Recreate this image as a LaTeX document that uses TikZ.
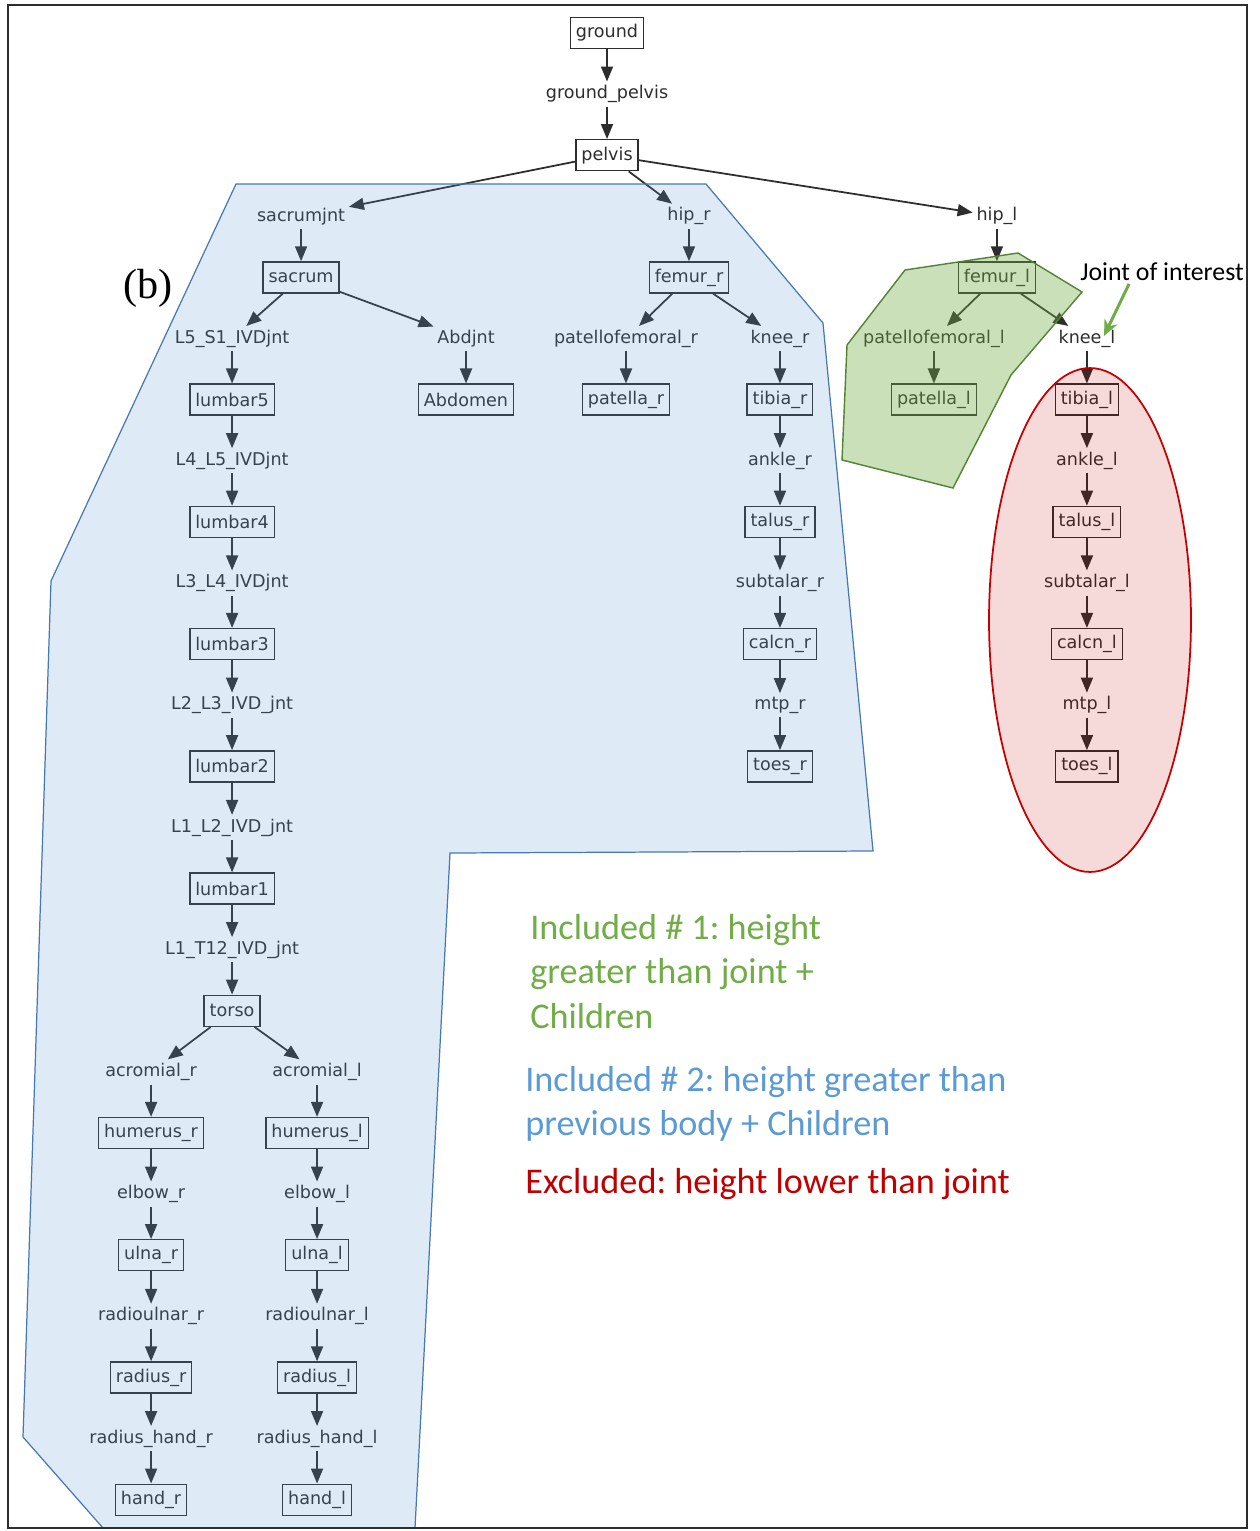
\documentclass[tikz,border=0pt]{standalone}
\usepackage{fontspec}
\usepackage{tikz}
\usetikzlibrary{shapes,arrows.meta,positioning}
\newfontfamily\treefont{DejaVu Sans}
\newfontfamily\legfont{Carlito}
\newfontfamily\capfont{Liberation Serif}
\definecolor{boxgray}{RGB}{45,45,45}
\definecolor{leggreen}{RGB}{112,173,71}
\definecolor{legblue}{RGB}{91,155,213}
\definecolor{legred}{RGB}{192,0,0}
\definecolor{blueline}{RGB}{70,120,180}
\definecolor{greenline}{RGB}{84,130,53}
\frenchspacing

\begin{document}
\begin{tikzpicture}[x=0.02cm, y=-0.02cm, node distance=1.2225cm, on grid,
    body/.style={rectangle, draw=boxgray, line width=0.8pt, text=boxgray, inner xsep=0.11cm, inner ysep=0pt, minimum height=0.62cm, font=\treefont\fontsize{10}{12}\selectfont},
    jnt/.style={inner sep=2pt, text=boxgray, font=\treefont\fontsize{10}{12}\selectfont},
    ar/.style={line width=1pt, draw=boxgray, -{Triangle[length=3mm,width=2.4mm]}},
    leg/.style={inner sep=0pt, anchor=north west, align=left, font=\legfont\fontsize{20.6}{25.2}\selectfont}]
    \useasboundingbox (0,0) rectangle (1259,1531);

    % root
    \node [body] (ground) at (607,33) {ground};
    \node [jnt, below=of ground] (gpelvis) {ground\_pelvis};
    \node [body, below=of gpelvis] (pelvis) {pelvis};
    \node [jnt, below left=1.2225cm and 6.12cm of pelvis] (sacrumjnt) {sacrumjnt};
    \node [body, below=of sacrumjnt] (sacrum) {sacrum};
    \node [jnt, below right=1.2225cm and 1.64cm of pelvis] (hipr) {hip\_r};
    \node [body, below=of hipr] (femurr) {femur\_r};
    \node [jnt, below right=1.2225cm and 7.8cm of pelvis] (hipl) {hip\_l};
    \node [body, below=of hipl] (femurl) {femur\_l};

    % spine
    \node [jnt, below left=1.2225cm and 1.38cm of sacrum] (lfives) {L5\_S1\_IVDjnt};
    \node [body, below=of lfives] (lumbarv) {lumbar5};
    \node [jnt, below=of lumbarv] (lfourv) {L4\_L5\_IVDjnt};
    \node [body, below=of lfourv] (lumbariv) {lumbar4};
    \node [jnt, below=of lumbariv] (lthreeiv) {L3\_L4\_IVDjnt};
    \node [body, below=of lthreeiv] (lumbariii) {lumbar3};
    \node [jnt, below=of lumbariii] (ltwoiii) {L2\_L3\_IVD\_jnt};
    \node [body, below=of ltwoiii] (lumbarii) {lumbar2};
    \node [jnt, below=of lumbarii] (loneii) {L1\_L2\_IVD\_jnt};
    \node [body, below=of loneii] (lumbari) {lumbar1};
    \node [jnt, below=of lumbari] (ltwelve) {L1\_T12\_IVD\_jnt};
    \node [body, below=of ltwelve] (torso) {torso};
    \node [jnt, below right=1.2225cm and 3.3cm of sacrum] (abdjnt) {Abdjnt};
    \node [body, below=of abdjnt] (abdomen) {Abdomen};

    % arms
    \node [jnt, below left=1.2225cm and 1.62cm of torso] (acromr) {acromial\_r};
    \node [body, below=of acromr] (humerr) {humerus\_r};
    \node [jnt, below=of humerr] (elbowr) {elbow\_r};
    \node [body, below=of elbowr] (ulnar) {ulna\_r};
    \node [jnt, below=of ulnar] (radulr) {radioulnar\_r};
    \node [body, below=of radulr] (radiusr) {radius\_r};
    \node [jnt, below=of radiusr] (radhandr) {radius\_hand\_r};
    \node [body, below=of radhandr] (handr) {hand\_r};
    \node [jnt, below right=1.2225cm and 1.7cm of torso] (acroml) {acromial\_l};
    \node [body, below=of acroml] (humerl) {humerus\_l};
    \node [jnt, below=of humerl] (elbowl) {elbow\_l};
    \node [body, below=of elbowl] (ulnal) {ulna\_l};
    \node [jnt, below=of ulnal] (radull) {radioulnar\_l};
    \node [body, below=of radull] (radiusl) {radius\_l};
    \node [jnt, below=of radiusl] (radhandl) {radius\_hand\_l};
    \node [body, below=of radhandl] (handl) {hand\_l};

    % right leg
    \node [jnt, below left=1.2225cm and 1.26cm of femurr] (patfemr) {patellofemoral\_r};
    \node [body, below=of patfemr] (patellar) {patella\_r};
    \node [jnt, below right=1.2225cm and 1.82cm of femurr] (kneer) {knee\_r};
    \node [body, below=of kneer] (tibiar) {tibia\_r};
    \node [jnt, below=of tibiar] (ankler) {ankle\_r};
    \node [body, below=of ankler] (talusr) {talus\_r};
    \node [jnt, below=of talusr] (subtalr) {subtalar\_r};
    \node [body, below=of subtalr] (calcnr) {calcn\_r};
    \node [jnt, below=of calcnr] (mtpr) {mtp\_r};
    \node [body, below=of mtpr] (toesr) {toes\_r};

    % left leg
    \node [jnt, below left=1.2225cm and 1.26cm of femurl] (patfeml) {patellofemoral\_l};
    \node [body, below=of patfeml] (patellal) {patella\_l};
    \node [jnt, below right=1.2225cm and 1.8cm of femurl] (kneel) {knee\_l};
    \node [body, below=of kneel] (tibial) {tibia\_l};
    \node [jnt, below=of tibial] (anklel) {ankle\_l};
    \node [body, below=of anklel] (talusl) {talus\_l};
    \node [jnt, below=of talusl] (subtall) {subtalar\_l};
    \node [body, below=of subtall] (calcnl) {calcn\_l};
    \node [jnt, below=of calcnl] (mtpl) {mtp\_l};
    \node [body, below=of mtpl] (toesl) {toes\_l};

    \draw [ar] (ground) -- (gpelvis);
    \draw [ar] (gpelvis) -- (pelvis);
    \draw [ar] (pelvis) -- (sacrumjnt);
    \draw [ar] (pelvis) -- (hipr);
    \draw [ar] (pelvis) -- (hipl);
    \draw [ar] (sacrumjnt) -- (sacrum);
    \draw [ar] (hipr) -- (femurr);
    \draw [ar] (hipl) -- (femurl);
    \draw [ar] (sacrum) -- (lfives);
    \draw [ar] (sacrum) -- (abdjnt);
    \draw [ar] (abdjnt) -- (abdomen);
    \draw [ar] (lfives) -- (lumbarv);
    \draw [ar] (lumbarv) -- (lfourv);
    \draw [ar] (lfourv) -- (lumbariv);
    \draw [ar] (lumbariv) -- (lthreeiv);
    \draw [ar] (lthreeiv) -- (lumbariii);
    \draw [ar] (lumbariii) -- (ltwoiii);
    \draw [ar] (ltwoiii) -- (lumbarii);
    \draw [ar] (lumbarii) -- (loneii);
    \draw [ar] (loneii) -- (lumbari);
    \draw [ar] (lumbari) -- (ltwelve);
    \draw [ar] (ltwelve) -- (torso);
    \draw [ar] (torso) -- (acromr);
    \draw [ar] (torso) -- (acroml);
    \draw [ar] (acromr) -- (humerr);
    \draw [ar] (humerr) -- (elbowr);
    \draw [ar] (elbowr) -- (ulnar);
    \draw [ar] (ulnar) -- (radulr);
    \draw [ar] (radulr) -- (radiusr);
    \draw [ar] (radiusr) -- (radhandr);
    \draw [ar] (radhandr) -- (handr);
    \draw [ar] (acroml) -- (humerl);
    \draw [ar] (humerl) -- (elbowl);
    \draw [ar] (elbowl) -- (ulnal);
    \draw [ar] (ulnal) -- (radull);
    \draw [ar] (radull) -- (radiusl);
    \draw [ar] (radiusl) -- (radhandl);
    \draw [ar] (radhandl) -- (handl);
    \draw [ar] (femurr) -- (patfemr);
    \draw [ar] (patfemr) -- (patellar);
    \draw [ar] (femurr) -- (kneer);
    \draw [ar] (kneer) -- (tibiar);
    \draw [ar] (tibiar) -- (ankler);
    \draw [ar] (ankler) -- (talusr);
    \draw [ar] (talusr) -- (subtalr);
    \draw [ar] (subtalr) -- (calcnr);
    \draw [ar] (calcnr) -- (mtpr);
    \draw [ar] (mtpr) -- (toesr);
    \draw [ar] (femurl) -- (patfeml);
    \draw [ar] (patfeml) -- (patellal);
    \draw [ar] (femurl) -- (kneel);
    \draw [ar] (kneel) -- (tibial);
    \draw [ar] (tibial) -- (anklel);
    \draw [ar] (anklel) -- (talusl);
    \draw [ar] (talusl) -- (subtall);
    \draw [ar] (subtall) -- (calcnl);
    \draw [ar] (calcnl) -- (mtpl);
    \draw [ar] (mtpl) -- (toesl);

    % highlighted regions
    \draw [blueline, line width=0.7pt, fill=legblue, fill opacity=0.2]
        (236,184) -- (706,184) -- (823,323) -- (873,851) -- (450,853) -- (415,1528)
        -- (103,1528) -- (23,1437) -- (51,581) -- cycle;
    \draw [greenline, line width=0.8pt, fill=leggreen, fill opacity=0.38]
        (905,270) -- (1018,253) -- (1082,292) -- (1011,375) -- (953,488) -- (842,460) -- (847,345) -- cycle;
    \draw [legred!90!red, line width=1pt, fill=legred, fill opacity=0.15] (1090,620) ellipse [x radius=2.02cm, y radius=5.04cm];

    % notes
    \node [font=\capfont\fontsize{24}{28}\selectfont, inner sep=0pt] (blabel) at (148,288) {(b)};
    \node [font=\legfont\fontsize{14.7}{17}\selectfont, anchor=west, inner sep=0pt] (joi) at (1080,272) {Joint of interest};
    \coordinate (jtip) at (1104,336);
    \draw [leggreen, line width=1.7pt, -{Stealth[length=3.2mm,width=2.8mm]}] ([xshift=-0.66cm, yshift=-0.05cm]joi.south) -- (jtip);
    \node [leg, text=leggreen] (inc1) at (530,914) {Included \# 1: height\\greater than joint +\\Children};
    \node [leg, text=legblue] (inc2) at (525,1066) {Included \# 2: height greater than\\previous body + Children};
    \node [leg, text=legred] (excl) at (525,1168) {Excluded: height lower than joint};

    \draw [boxgray, line width=1.2pt] (8,5) rectangle (1247,1528);
\end{tikzpicture}
\end{document}
